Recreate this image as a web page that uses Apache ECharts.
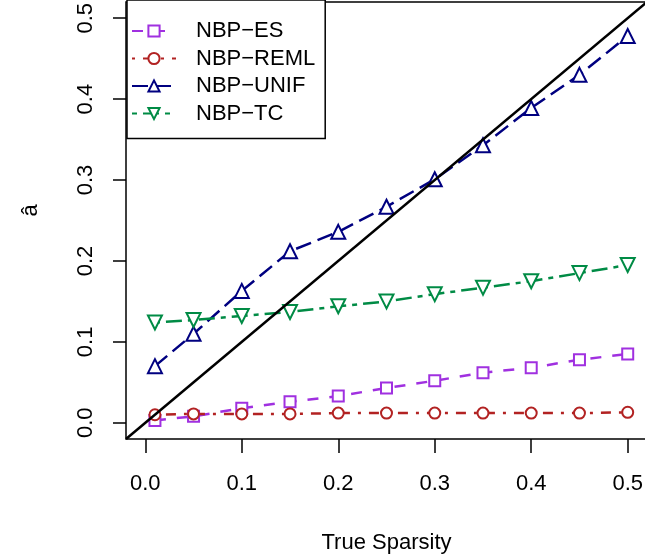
<!DOCTYPE html>
<html>
<head>
<meta charset="utf-8">
<script src="https://cdn.jsdelivr.net/npm/echarts@6/dist/echarts.min.js"></script>
<style>
  html, body { margin: 0; padding: 0; background: #fff; }
  #chart { width: 645px; height: 556px; }
</style>
</head>
<body>
<div id="chart"></div>
<script>
// true sparsity values (x)
var sparsity = [0.01, 0.05, 0.1, 0.15, 0.2, 0.25, 0.3, 0.35, 0.4, 0.45, 0.5];
// estimated a-hat for each method
var nbpES = [0.003, 0.008, 0.018, 0.026, 0.033, 0.043, 0.052, 0.062, 0.068, 0.078, 0.085];
var nbpREML = [0.010, 0.011, 0.011, 0.011, 0.012, 0.012, 0.012, 0.012, 0.012, 0.012, 0.013];
var nbpUNIF = [0.070, 0.110, 0.163, 0.212, 0.236, 0.267, 0.301, 0.343, 0.389, 0.430, 0.478];
var nbpTC = [0.124, 0.127, 0.132, 0.137, 0.144, 0.150, 0.159, 0.167, 0.175, 0.185, 0.195];
// tick labels
var ticks = [0, 0.1, 0.2, 0.3, 0.4, 0.5];
var axisMin = -0.02, axisMax = 0.52;

var font = "'Liberation Sans', Arial, sans-serif";

function pairs(ys) {
  return sparsity.map(function (x, i) { return [x, ys[i]]; });
}

function lineSeries(name, ys, color, symbol, size, dash, rot) {
  return {
    name: name,
    type: "line",
    data: pairs(ys),
    symbol: symbol,
    symbolSize: size,
    symbolRotate: rot || 0,
    z: 3,
    lineStyle: { color: color, width: 2.5, type: dash },
    itemStyle: { color: color, borderColor: color, borderWidth: 2.5 },
  };
}

var myChart = echarts.init(document.getElementById("chart"));
var option = {
  animation: false,
  textStyle: { fontFamily: font },
  grid: {
    left: 126,
    top: 2,
    width: 521,
    height: 437,
    containLabel: false,
    outerBoundsMode: "none",
    show: true,
    borderColor: "#000",
    borderWidth: 1.5,
  },
  legend: {
    orient: "vertical",
    left: 127,
    top: 0,
    padding: [20, 10, 14, 4],
    itemWidth: 44,
    itemHeight: 14,
    itemGap: 5.5,
    backgroundColor: "#fff",
    borderColor: "#000",
    borderWidth: 1.5,
    textStyle: {
      fontFamily: font,
      fontSize: 22,
      color: "#000",
      padding: [0, 0, 0, 15],
      lineHeight: 22,
    },
    data: ["NBP\u2212ES", "NBP\u2212REML", "NBP\u2212UNIF", "NBP\u2212TC"],
  },
  xAxis: {
    type: "value",
    min: axisMin,
    max: axisMax,
    name: "True Sparsity",
    nameLocation: "middle",
    nameGap: 93,
    nameTextStyle: { fontFamily: font, fontSize: 22, color: "#000" },
    axisLine: { show: false, onZero: false },
    splitLine: { show: false },
    axisTick: {
      show: true,
      inside: false,
      length: 14,
      customValues: ticks,
      lineStyle: { color: "#000", width: 1.5 },
    },
    axisLabel: {
      customValues: ticks,
      fontFamily: font,
      fontSize: 22,
      color: "#000",
      margin: 34,
      formatter: function (v) { return v.toFixed(1); },
    },
  },
  yAxis: {
    type: "value",
    min: axisMin,
    max: axisMax,
    name: "\u00e2",
    nameLocation: "middle",
    nameRotate: 90,
    nameGap: 84,
    nameTextStyle: { fontFamily: font, fontSize: 22, color: "#000", padding: [0, 0, 0, 20] },
    axisLine: { show: false, onZero: false },
    splitLine: { show: false },
    axisTick: {
      show: true,
      inside: false,
      length: 13,
      customValues: ticks,
      lineStyle: { color: "#000", width: 1.5 },
    },
    axisLabel: {
      customValues: ticks,
      rotate: 90,
      fontFamily: font,
      fontSize: 22,
      color: "#000",
      margin: 29,
      formatter: function (v) { return v.toFixed(1); },
    },
  },
  series: [
    {
      name: "identity",
      type: "line",
      data: [],
      silent: true,
      z: 2,
      markLine: {
        silent: true,
        symbol: "none",
        label: { show: false },
        lineStyle: { color: "#000", width: 2.5, type: "solid" },
        data: [[{ coord: [axisMin, axisMin] }, { coord: [axisMax, axisMax] }]],
      },
    },
    lineSeries("NBP\u2212ES", nbpES, "#a030e0", "emptyRect", 11, [11, 11]),
    lineSeries("NBP\u2212REML", nbpREML, "#b22222", "emptyCircle", 11, [3, 8, 10, 8]),
    lineSeries("NBP\u2212UNIF", nbpUNIF, "#000080", "emptyTriangle", 14, [16, 7]),
    lineSeries("NBP\u2212TC", nbpTC, "#008b45", "emptyTriangle", 14, [5, 6, 16, 6], 180),
  ],
};
myChart.setOption(option);
</script>
</body>
</html>
